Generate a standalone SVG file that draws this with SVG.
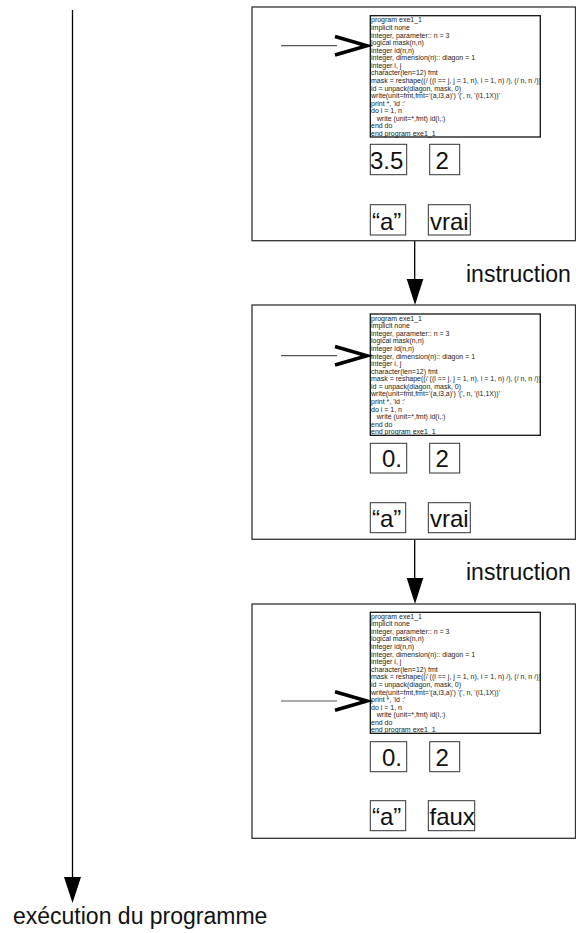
<svg xmlns="http://www.w3.org/2000/svg" width="576" height="933" viewBox="0 0 576 933">
<style>
  .panel { fill: #fff; stroke: #333; stroke-width: 1.3; }
  .code { fill: #fff; stroke: #111; stroke-width: 1.3; }
  .val { fill: #fff; stroke: #333; stroke-width: 1; }
  .codetxt { font-family: "Liberation Sans", Arial, sans-serif; font-size: 7px; fill: #222; }
  .valtxt { font-family: "Liberation Sans", Arial, sans-serif; font-size: 24px; fill: #111; }
  .label { font-family: "Liberation Sans", Arial, sans-serif; font-size: 23px; fill: #111; }
  .ptrline { stroke: #555; stroke-width: 1.2; fill: none; }
  .chev { stroke: #000; stroke-width: 3.5; fill: none; stroke-linejoin: miter; }
  .conn { stroke: #000; stroke-width: 1.3; fill: none; }
  .head { fill: #000; stroke: none; }
</style>
<rect width="576" height="933" fill="#fff"/>

<g id="connectors">
  <line class="conn" x1="72.5" y1="10" x2="72.5" y2="878"/>
  <polygon class="head" points="64,877 81,877 72.5,903"/>
  <line class="conn" x1="414.7" y1="240.7" x2="414.7" y2="280"/>
  <polygon class="head" points="406.7,279 423.3,279 415,305"/>
  <line class="conn" x1="414.7" y1="539.3" x2="414.7" y2="579"/>
  <polygon class="head" points="406.7,578 423.3,578 415,604"/>
</g>

<g id="axis-label">
  <text class="label" x="13" y="924">exécution du programme</text>
</g>
<g id="instr-label-1">
  <text class="label" x="466" y="281.7">instruction</text>
</g>
<g id="instr-label-2">
  <text class="label" x="466" y="580.3">instruction</text>
</g>

<g id="state1">
  <rect class="panel" x="252" y="7" width="323.5" height="233.7"/>
  <rect class="code" x="370.3" y="15.7" width="170" height="121.3"/>
  <text class="codetxt">
    <tspan x="371" y="22.3">program exe1_1</tspan>
    <tspan x="371" y="29.9">implicit none</tspan>
    <tspan x="371" y="37.5">integer, parameter:: n = 3</tspan>
    <tspan x="371" y="45.0">logical mask(n,n)</tspan>
    <tspan x="371" y="52.6">integer id(n,n)</tspan>
    <tspan x="371" y="60.2">integer, dimension(n):: diagon = 1</tspan>
    <tspan x="371" y="67.8">integer i, j</tspan>
    <tspan x="371" y="75.4">character(len=12) fmt</tspan>
    <tspan x="371" y="82.9">mask = reshape((/ ((i == j, j = 1, n), i = 1, n) /), (/ n, n /))</tspan>
    <tspan x="371" y="90.5">id = unpack(diagon, mask, 0)</tspan>
    <tspan x="371" y="98.1">write(unit=fmt,fmt='(a,i3,a)') '(', n, '(i1,1X))'</tspan>
    <tspan x="371" y="105.7">print *, 'id :'</tspan>
    <tspan x="371" y="113.3">do i = 1, n</tspan>
    <tspan x="376.8" y="120.8">write (unit=*,fmt) id(i,:)</tspan>
    <tspan x="371" y="128.4">end do</tspan>
    <tspan x="371" y="136.0">end program exe1_1</tspan>
  </text>
  <line class="ptrline" x1="281" y1="45.7" x2="337" y2="45.7"/>
  <polyline class="chev" points="335,36.5 367,45.7 335,55"/>
  <rect class="val" x="370.3" y="144.3" width="36.4" height="30.4"/>
  <text class="valtxt" x="370" y="168.5">3.5</text>
  <rect class="val" x="429.7" y="144.3" width="30" height="30.4"/>
  <text class="valtxt" x="435.5" y="168.5">2</text>
  <rect class="val" x="370.3" y="204.7" width="35.4" height="30.3"/>
  <text class="valtxt" x="372" y="229.5">“a”</text>
  <rect class="val" x="428.3" y="204.7" width="42" height="30.3"/>
  <text class="valtxt" x="430" y="229.5">vrai</text>
</g>

<g id="state2">
  <rect class="panel" x="252" y="305" width="323.5" height="234.3"/>
  <rect class="code" x="370.3" y="314" width="170" height="121.3"/>
  <text class="codetxt">
    <tspan x="371" y="320.6">program exe1_1</tspan>
    <tspan x="371" y="328.2">implicit none</tspan>
    <tspan x="371" y="335.8">integer, parameter:: n = 3</tspan>
    <tspan x="371" y="343.3">logical mask(n,n)</tspan>
    <tspan x="371" y="350.9">integer id(n,n)</tspan>
    <tspan x="371" y="358.5">integer, dimension(n):: diagon = 1</tspan>
    <tspan x="371" y="366.1">integer i, j</tspan>
    <tspan x="371" y="373.7">character(len=12) fmt</tspan>
    <tspan x="371" y="381.2">mask = reshape((/ ((i == j, j = 1, n), i = 1, n) /), (/ n, n /))</tspan>
    <tspan x="371" y="388.8">id = unpack(diagon, mask, 0)</tspan>
    <tspan x="371" y="396.4">write(unit=fmt,fmt='(a,i3,a)') '(', n, '(i1,1X))'</tspan>
    <tspan x="371" y="404.0">print *, 'id :'</tspan>
    <tspan x="371" y="411.6">do i = 1, n</tspan>
    <tspan x="376.8" y="419.1">write (unit=*,fmt) id(i,:)</tspan>
    <tspan x="371" y="426.7">end do</tspan>
    <tspan x="371" y="434.3">end program exe1_1</tspan>
  </text>
  <line class="ptrline" x1="281" y1="355.7" x2="337" y2="355.7"/>
  <polyline class="chev" points="335,346.5 367,355.7 335,365"/>
  <rect class="val" x="370.3" y="443.3" width="36.4" height="29.7"/>
  <text class="valtxt" x="382" y="467.3">0.</text>
  <rect class="val" x="429.7" y="443.3" width="30" height="29.7"/>
  <text class="valtxt" x="435.5" y="467.3">2</text>
  <rect class="val" x="370.3" y="502.7" width="35.4" height="30"/>
  <text class="valtxt" x="372" y="527.3">“a”</text>
  <rect class="val" x="428.3" y="502.7" width="42" height="30"/>
  <text class="valtxt" x="430" y="527.3">vrai</text>
</g>

<g id="state3">
  <rect class="panel" x="252" y="604" width="323.5" height="234.3"/>
  <rect class="code" x="370.3" y="612.3" width="170" height="121"/>
  <text class="codetxt">
    <tspan x="371" y="618.7">program exe1_1</tspan>
    <tspan x="371" y="626.3">implicit none</tspan>
    <tspan x="371" y="633.9">integer, parameter:: n = 3</tspan>
    <tspan x="371" y="641.4">logical mask(n,n)</tspan>
    <tspan x="371" y="649.0">integer id(n,n)</tspan>
    <tspan x="371" y="656.6">integer, dimension(n):: diagon = 1</tspan>
    <tspan x="371" y="664.2">integer i, j</tspan>
    <tspan x="371" y="671.8">character(len=12) fmt</tspan>
    <tspan x="371" y="679.3">mask = reshape((/ ((i == j, j = 1, n), i = 1, n) /), (/ n, n /))</tspan>
    <tspan x="371" y="686.9">id = unpack(diagon, mask, 0)</tspan>
    <tspan x="371" y="694.5">write(unit=fmt,fmt='(a,i3,a)') '(', n, '(i1,1X))'</tspan>
    <tspan x="371" y="702.1">print *, 'id :'</tspan>
    <tspan x="371" y="709.7">do i = 1, n</tspan>
    <tspan x="376.8" y="717.2">write (unit=*,fmt) id(i,:)</tspan>
    <tspan x="371" y="724.8">end do</tspan>
    <tspan x="371" y="732.4">end program exe1_1</tspan>
  </text>
  <line class="ptrline" x1="281" y1="701" x2="337" y2="701"/>
  <polyline class="chev" points="335,691.8 367,701 335,710.3"/>
  <rect class="val" x="370.3" y="741.7" width="36.4" height="30"/>
  <text class="valtxt" x="382" y="765.8">0.</text>
  <rect class="val" x="429.7" y="741.7" width="30" height="30"/>
  <text class="valtxt" x="435.5" y="765.8">2</text>
  <rect class="val" x="370.3" y="800.7" width="35.4" height="30"/>
  <text class="valtxt" x="372" y="825.3">“a”</text>
  <rect class="val" x="428.3" y="800.7" width="46.4" height="30"/>
  <text class="valtxt" x="429.5" y="825.3">faux</text>
</g>
</svg>
